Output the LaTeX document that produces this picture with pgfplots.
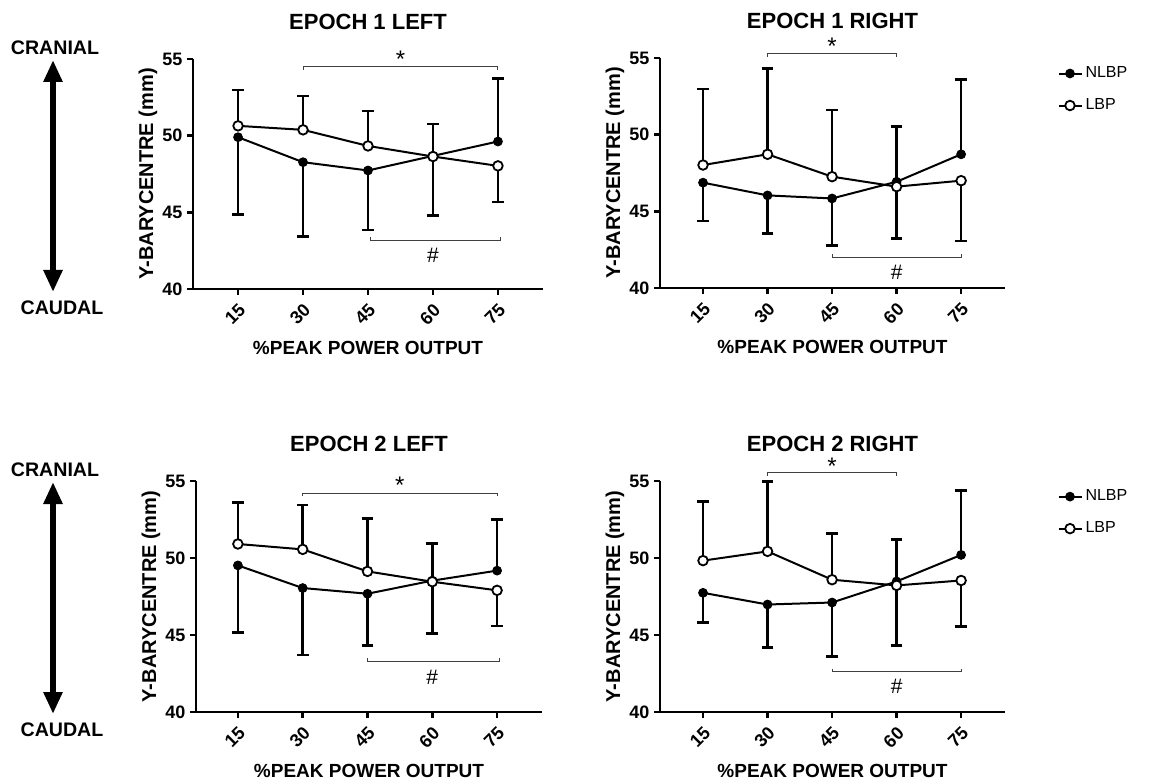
\documentclass[border=0pt]{standalone}
\usepackage{fontspec}
\setmainfont{Liberation Sans}
\usepackage{pgfplots}
\pgfplotsset{compat=1.18}
\usetikzlibrary{arrows.meta}

\tikzset{brk/.style={draw=black!75, line width=0.5pt}}
% bracket with end ticks: #1,#2 = x range, #3 = y, #4 = tick length (signed)
\newcommand{\bracket}[4]{%
  \draw[brk] ([yshift=#4]axis cs:#1,#3) -- (axis cs:#1,#3) -- (axis cs:#2,#3) -- ([yshift=#4]axis cs:#2,#3);}
\pgfplotsset{
  panel/.style={
    scale only axis,
    clip=false,
    axis lines*=left,
    axis line style={line width=1.3pt},
    ymin=40, ymax=55, ytick={40,45,50,55},
    xtick={15,30,45,60,75},
    tick align=outside,
    major tick length=2.8pt,
    tick style={line width=1.3pt, black},
    /pgf/number format/assume math mode=true,
    tick label style={font=\bfseries\fontsize{9}{10}\selectfont},
    yticklabel style={xshift=1pt},
    xticklabel style={rotate=45, anchor=center, xshift=-8.1pt, yshift=-6pt},
    ylabel={Y-BARYCENTRE (mm)},
    ylabel style={font=\bfseries\fontsize{10}{12}\selectfont, at={(axis description cs:0,0.5)}, anchor=center, yshift=22.5pt},
    xlabel={\%PEAK POWER OUTPUT},
    xlabel style={font=\bfseries\fontsize{9.5}{11}\selectfont, at={(axis description cs:0.5,0)}, anchor=center, yshift=-29.5pt},
    title style={font=\bfseries\fontsize{11}{13}\selectfont, at={(axis description cs:0.5,1)}, anchor=center, yshift=12.5pt},
  },
  nlbp/.style={black, line width=1pt, mark=*, mark size=1.9pt, mark options={solid, fill=black}},
  lbp/.style={black, line width=1pt, mark=*, mark size=2.4pt, mark options={solid, fill=white, line width=0.9pt}},
  err/.style={forget plot, only marks, mark=none,
    error bars/.cd, y dir=#1, y explicit,
    error bar style={draw=black, line width=1.3pt, solid},
    error mark=|, error mark options={draw=black, mark size=2.9pt, line width=1.3pt}},
  leg/.style={
    legend style={at={(axis description cs:1.151,0.863)}, anchor=west, draw=none, fill=none,
      font=\fontsize{8}{9}\selectfont, row sep=6pt, inner sep=0pt, nodes={inner sep=1.5pt}},
    legend cell align=left,
    legend image code/.code={\draw[mark repeat=2, mark phase=2, ##1] plot coordinates {(0pt,0pt) (5.75pt,0pt) (11.5pt,0pt)};}
  },
}
\newcommand{\astfont}{\fontsize{12}{12}\selectfont}
\newcommand{\hshfont}{\fontsize{10.5}{11}\selectfont}

\begin{document}
\begin{tikzpicture}
\useasboundingbox (0,0) rectangle (576pt,391.5pt);

% left direction arrows
\draw[line width=3pt, {Triangle[width=9pt,length=11pt]}-{Triangle[width=9pt,length=11pt]}] (26.5pt,361.5pt) -- (26.5pt,245.5pt);
\node[font=\bfseries\fontsize{9.8}{11}\selectfont] at (27.5pt,367.5pt) {CRANIAL};
\node[font=\bfseries\fontsize{9.8}{11}\selectfont] at (31pt,237.5pt) {CAUDAL};
\draw[line width=3pt, {Triangle[width=9pt,length=11pt]}-{Triangle[width=9pt,length=11pt]}] (26.5pt,150.5pt) -- (26.5pt,34.5pt);
\node[font=\bfseries\fontsize{9.8}{11}\selectfont] at (27.5pt,156.5pt) {CRANIAL};
\node[font=\bfseries\fontsize{9.8}{11}\selectfont] at (31pt,26.5pt) {CAUDAL};

% EPOCH 1 LEFT
\begin{axis}[panel, at={(96.5pt,247pt)}, anchor=south west, width=175pt, height=115pt,
  xmin=4.6, xmax=85.4, title={EPOCH 1 LEFT}]
  \addplot[err=minus] coordinates {(15,49.90) +- (0,5.06) (30,48.27) +- (0,4.84) (45,47.73) +- (0,3.87) (60,48.68) +- (0,3.90)};
  \addplot[err=plus] coordinates {(75,49.62) +- (0,4.12)};
  \addplot[err=plus] coordinates {(15,50.64) +- (0,2.34) (30,50.38) +- (0,2.21) (45,49.33) +- (0,2.28) (60,48.64) +- (0,2.13)};
  \addplot[err=minus] coordinates {(75,48.03) +- (0,2.36)};
  \addplot[nlbp] coordinates {(15,49.90) (30,48.27) (45,47.73) (60,48.68) (75,49.62)};
  \addplot[lbp] coordinates {(15,50.64) (30,50.38) (45,49.33) (60,48.64) (75,48.03)};
  \bracket{30}{75}{54.48}{-1.5pt}
  \node[font=\astfont] at (axis cs:52.5,55.0) {*};
  \bracket{45.5}{75.5}{43.19}{1.5pt}
  \node[font=\hshfont] at (axis cs:60,42.2) {\#};
\end{axis}

% EPOCH 1 RIGHT
\begin{axis}[panel, leg, at={(330pt,247.5pt)}, anchor=south west, width=172.5pt, height=115pt,
  xmin=5, xmax=85.2, title={EPOCH 1 RIGHT}]
  \addplot[err=minus] coordinates {(15,46.87) +- (0,2.51) (30,46.04) +- (0,2.49) (45,45.84) +- (0,3.05)};
  \addplot[err=plus] coordinates {(60,46.93) +- (0,3.60) (75,48.72) +- (0,4.86)};
  \addplot[err=plus] coordinates {(15,48.02) +- (0,4.97) (30,48.72) +- (0,5.58) (45,47.26) +- (0,4.34)};
  \addplot[err=minus] coordinates {(60,46.61) +- (0,3.38) (75,47.00) +- (0,3.93)};
  \addplot[nlbp] coordinates {(15,46.87) (30,46.04) (45,45.84) (60,46.93) (75,48.72)};
  \addlegendentry{NLBP}
  \addplot[lbp] coordinates {(15,48.02) (30,48.72) (45,47.26) (60,46.61) (75,47.00)};
  \addlegendentry{LBP}
  \bracket{30}{60}{55.28}{-1.5pt}
  \node[font=\astfont] at (axis cs:45,55.75) {*};
  \bracket{45}{75}{42.0}{1.5pt}
  \node[font=\hshfont] at (axis cs:60,41.0) {\#};
\end{axis}

% EPOCH 2 LEFT
\begin{axis}[panel, at={(98pt,35.5pt)}, anchor=south west, width=173pt, height=115.5pt,
  xmin=5.3, xmax=85.4, title={EPOCH 2 LEFT}]
  \addplot[err=minus] coordinates {(15,49.52) +- (0,4.35) (30,48.05) +- (0,4.35) (45,47.68) +- (0,3.37)};
  \addplot[err=plus] coordinates {(60,48.53) +- (0,2.40) (75,49.18) +- (0,3.33)};
  \addplot[err=plus] coordinates {(15,50.91) +- (0,2.70) (30,50.56) +- (0,2.88) (45,49.13) +- (0,3.42)};
  \addplot[err=minus] coordinates {(60,48.46) +- (0,3.37) (75,47.90) +- (0,2.32)};
  \addplot[nlbp] coordinates {(15,49.52) (30,48.05) (45,47.68) (60,48.53) (75,49.18)};
  \addplot[lbp] coordinates {(15,50.91) (30,50.56) (45,49.13) (60,48.46) (75,47.90)};
  \bracket{30}{75}{54.22}{-1.5pt}
  \node[font=\astfont] at (axis cs:52.5,54.7) {*};
  \bracket{45}{75.5}{43.31}{1.5pt}
  \node[font=\hshfont] at (axis cs:60,42.27) {\#};
\end{axis}

% EPOCH 2 RIGHT
\begin{axis}[panel, leg, at={(330pt,35.5pt)}, anchor=south west, width=172.5pt, height=115.5pt,
  xmin=5, xmax=85.2, title={EPOCH 2 RIGHT}]
  \addplot[err=minus] coordinates {(15,47.74) +- (0,1.91) (30,46.98) +- (0,2.78) (45,47.11) +- (0,3.52)};
  \addplot[err=plus] coordinates {(60,48.48) +- (0,2.74) (75,50.20) +- (0,4.17)};
  \addplot[err=plus] coordinates {(15,49.83) +- (0,3.82) (30,50.43) +- (0,4.53) (45,48.59) +- (0,3.00)};
  \addplot[err=minus] coordinates {(60,48.22) +- (0,3.92) (75,48.54) +- (0,3.00)};
  \addplot[nlbp] coordinates {(15,47.74) (30,46.98) (45,47.11) (60,48.48) (75,50.20)};
  \addlegendentry{NLBP}
  \addplot[lbp] coordinates {(15,49.83) (30,50.43) (45,48.59) (60,48.22) (75,48.54)};
  \addlegendentry{LBP}
  \bracket{30}{60}{55.54}{-1.5pt}
  \node[font=\astfont] at (axis cs:45,55.95) {*};
  \bracket{45}{75}{42.62}{1.5pt}
  \node[font=\hshfont] at (axis cs:60,41.69) {\#};
\end{axis}
\end{tikzpicture}
\end{document}
